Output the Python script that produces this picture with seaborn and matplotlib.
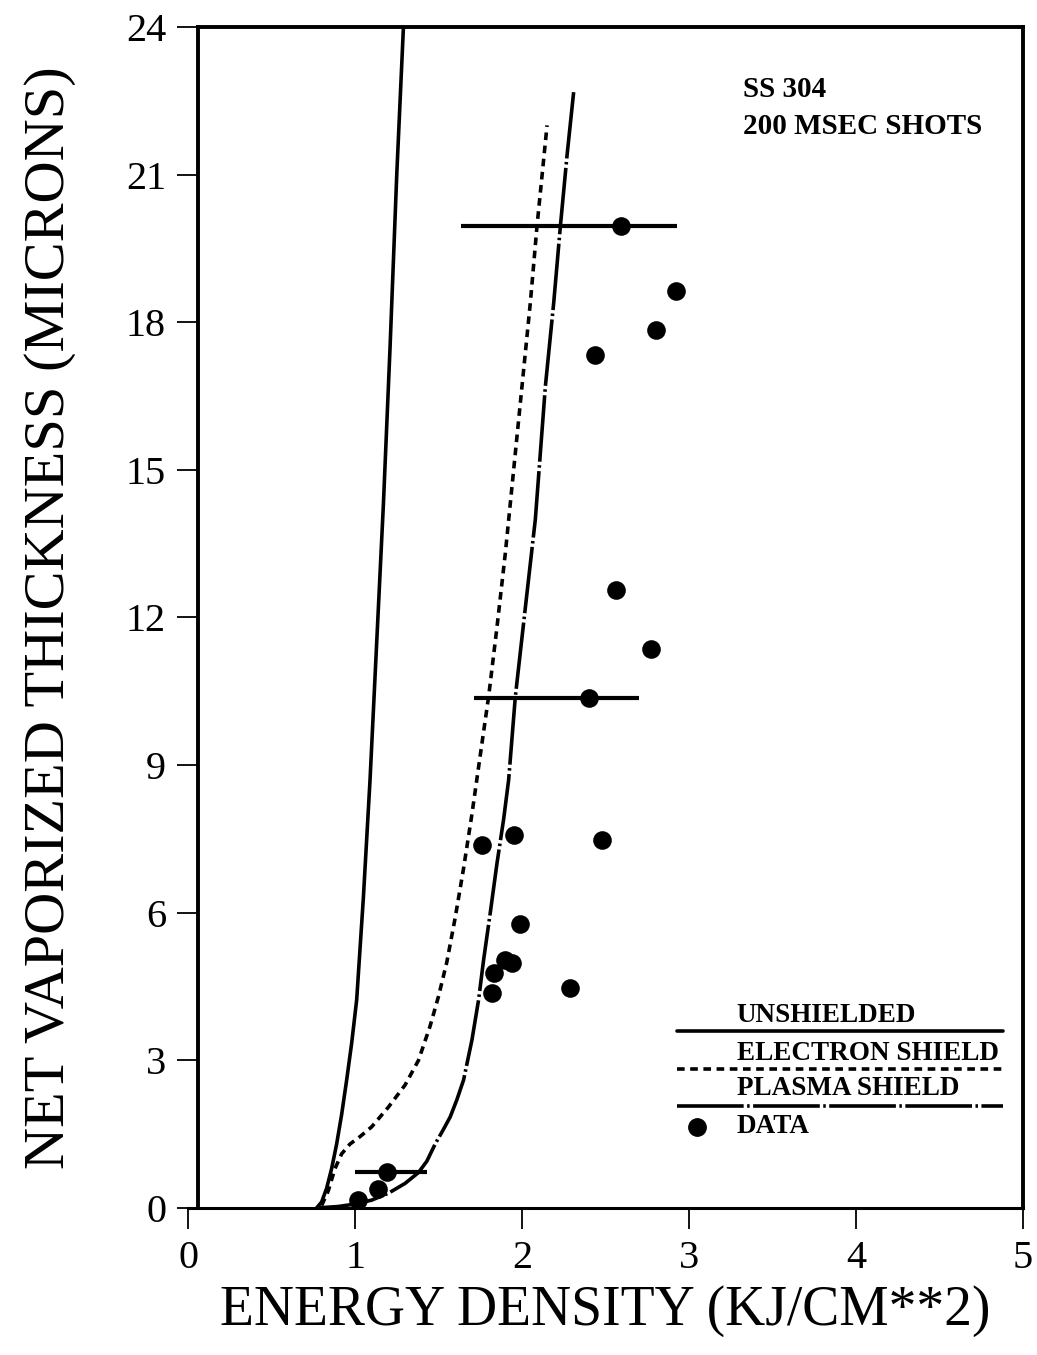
"""
SS 304 net vaporized thickness vs energy density, 200 msec shots.
"""
import matplotlib

matplotlib.use("Agg")
import matplotlib.pyplot as plt
import pandas as pd
import seaborn as sns

# model curves (energy density KJ/cm^2, thickness microns)
UNSH_X = [0.77, 0.80, 0.83, 0.86, 0.89, 0.92, 0.95, 0.98, 1.01, 1.05, 1.09,
          1.13, 1.17, 1.21, 1.25, 1.29]
UNSH_Y = [0.0, 0.12, 0.4, 0.8, 1.3, 1.9, 2.6, 3.35, 4.23, 6.3, 8.7,
          11.5, 14.3, 17.5, 21.0, 24.0]

ELEC_X = [0.80, 0.84, 0.88, 0.92, 0.97, 1.03, 1.10, 1.20, 1.30, 1.38, 1.45,
          1.50, 1.55, 1.60, 1.65, 1.70, 1.75, 1.80, 1.85, 1.90, 1.95, 2.00,
          2.05, 2.09, 2.15]
ELEC_Y = [0.05, 0.35, 0.8, 1.1, 1.3, 1.45, 1.65, 2.05, 2.5, 3.0, 3.7,
          4.3, 5.0, 5.9, 6.9, 8.0, 9.2, 10.39, 11.8, 13.3, 15.0, 16.7,
          18.4, 19.96, 22.0]

PLAS_X = [0.77, 0.90, 1.00, 1.10, 1.20, 1.30, 1.38, 1.43, 1.48, 1.53, 1.57,
          1.61, 1.65, 1.70, 1.74, 1.77, 1.81, 1.85, 1.89, 1.92, 1.96, 2.02,
          2.08, 2.14, 2.19, 2.23, 2.27, 2.31]
PLAS_Y = [0.0, 0.03, 0.08, 0.16, 0.3, 0.5, 0.72, 0.95, 1.3, 1.6, 1.85,
          2.2, 2.6, 3.41, 4.23, 5.04, 6.0, 7.0, 7.9, 8.7, 10.39, 12.2,
          14.0, 16.7, 18.4, 19.96, 21.4, 22.7]

# measured data
DATA_X = [1.02, 1.14, 1.19, 1.76, 1.95, 2.48, 1.99, 1.90, 1.94, 1.83, 1.82, 2.29,
          2.40, 2.56, 2.77, 2.44, 2.80, 2.92, 2.59]
DATA_Y = [0.16, 0.38, 0.73, 7.38, 7.58, 7.48, 5.77, 5.04, 4.98, 4.77, 4.37, 4.47,
          10.37, 12.56, 11.36, 17.34, 17.85, 18.64, 19.96]

# horizontal error bars
ERR_X = [1.19, 2.40, 2.59]
ERR_Y = [0.73, 10.37, 19.96]
ERR_LO = [1.00, 1.71, 1.635]
ERR_HI = [1.43, 2.70, 2.93]

X_TICKS = [0, 1, 2, 3, 4, 5]
Y_TICKS = [0, 3, 6, 9, 12, 15, 18, 21, 24]

SERIF = ["Liberation Serif", "DejaVu Serif"]
ELEC_LS = (0, (5.5, 4.0))
PLAS_LS = (0, (48, 2.5, 1.8, 2.5))

sns.set_theme(style="ticks")
plt.rcParams["font.family"] = SERIF
plt.rcParams["lines.scale_dashes"] = False
plt.rcParams["text.color"] = "black"
plt.rcParams["axes.labelcolor"] = "black"

fig = plt.figure(figsize=(10.37, 13.55), dpi=100)
ax = fig.add_axes([0.1813, 0.1085, 0.8052, 0.8716])

lw = 2.6
sns.lineplot(x=UNSH_X, y=UNSH_Y, sort=False, estimator=None, color="black",
             lw=lw, ax=ax)
sns.lineplot(x=ELEC_X, y=ELEC_Y, sort=False, estimator=None, color="black",
             lw=lw, linestyle=ELEC_LS, ax=ax)
sns.lineplot(x=PLAS_X, y=PLAS_Y, sort=False, estimator=None, color="black",
             lw=lw, linestyle=PLAS_LS, ax=ax)

err = pd.DataFrame({"x": ERR_X, "y": ERR_Y, "lo": ERR_LO, "hi": ERR_HI})
ax.errorbar(err["x"], err["y"],
            xerr=[err["x"] - err["lo"], err["hi"] - err["x"]],
            fmt="none", ecolor="black", elinewidth=3.0, capsize=0)

sns.scatterplot(x=DATA_X, y=DATA_Y, color="black", s=180, edgecolor="black",
                linewidth=0, ax=ax, zorder=5, clip_on=False)

ax.set_xlim(0, 5)
ax.set_ylim(0, 24)
ax.set_xticks(X_TICKS)
ax.set_yticks(Y_TICKS)
ax.tick_params(axis="both", direction="out", length=15, width=1.3,
               labelsize=29, color="black", labelcolor="black")
ax.tick_params(axis="x", pad=8)
ax.tick_params(axis="y", pad=8)

for side in ["left", "right", "top", "bottom"]:
    ax.spines[side].set_visible(True)
    ax.spines[side].set_color("black")
    ax.spines[side].set_linewidth(2.8)
ax.spines["left"].set_position(("data", 0.06))
ax.spines["top"].set_bounds(0.06, 5)
ax.spines["bottom"].set_linewidth(2.2)

ax.set_xlabel("ENERGY DENSITY (KJ/CM**2)", fontsize=40, labelpad=6)
ax.set_ylabel("NET VAPORIZED THICKNESS (MICRONS)", fontsize=42, labelpad=36)

# annotation
ax.text(0.665, 0.947, "SS 304", transform=ax.transAxes, fontsize=21,
        fontweight="bold", va="center", ha="left")
ax.text(0.665, 0.916, "200 MSEC SHOTS", transform=ax.transAxes, fontsize=21,
        fontweight="bold", va="center", ha="left")

# hand-made legend (labels above the line samples)
leg_x0, leg_x1, txt_x = 0.586, 0.976, 0.657
leg_rows = [
    ("UNSHIELDED", 0.1626, 0.150, "-"),
    ("ELECTRON SHIELD", 0.131, 0.118, ELEC_LS),
    ("PLASMA SHIELD", 0.1008, 0.0864, PLAS_LS),
]
for label, ty, ly, ls in leg_rows:
    ax.text(txt_x, ty, label, transform=ax.transAxes, fontsize=19.5,
            fontweight="bold", va="center", ha="left")
    ax.plot([leg_x0, leg_x1], [ly, ly], transform=ax.transAxes, color="black",
            lw=lw, linestyle=ls, clip_on=False)
ax.plot([0.610], [0.0686], "o", color="black", ms=12.5, transform=ax.transAxes)
ax.text(txt_x, 0.0686, "DATA", transform=ax.transAxes, fontsize=19.5,
        fontweight="bold", va="center", ha="left")

fig.savefig("out.png", dpi=100)
